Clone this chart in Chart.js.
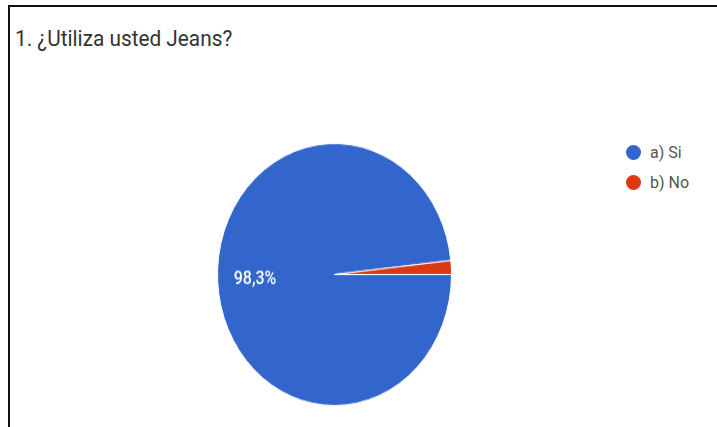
<!DOCTYPE html>
<html lang="es">
<head>
  <meta charset="UTF-8">
  <title>¿Utiliza usted Jeans?</title>
  <script src="https://cdn.jsdelivr.net/npm/chart.js"></script>
  <style>
    body { margin: 0; background: #fff; font-family: Roboto, sans-serif; }
    #frame { position: absolute; left: 8px; top: 5px; width: 720px; height: 440px;
             border-top: 2px solid #111; border-left: 2px solid #111; }
    #title { position: absolute; left: 15px; top: 25px; font-size: 20.8px; color: #333;
             transform: scaleY(1.1); transform-origin: left top; white-space: nowrap; }
    #pieBox { position: absolute; left: 212px; top: 152px; width: 245px; height: 245px;
              transform: scaleY(1.12); transform-origin: center center; }
    #legend { position: absolute; left: 626px; top: 137px; font-size: 16px; color: #555; }
    .item { display: flex; align-items: center; height: 30px; }
    .dot { width: 15px; height: 15px; border-radius: 50%; margin-right: 9px; }
  </style>
</head>
<body>
  <div id="frame"></div>
  <div id="title">1. ¿Utiliza usted Jeans?</div>
  <div id="pieBox"><canvas id="myChart" width="245" height="245"></canvas></div>
  <div id="legend"></div>

  <script>
    const labels = ["a) Si", "b) No"];
    const values = [98.3, 1.7];
    const colors = ["#3366cc", "#dc3912"];

    // percent labels inside the big slice, like the forms chart does
    const sliceLabels = {
      id: "sliceLabels",
      afterDatasetsDraw(chart) {
        const ctx = chart.ctx;
        const meta = chart.getDatasetMeta(0);
        const total = values.reduce((a, b) => a + b, 0);
        meta.data.forEach((arc, i) => {
          const pct = values[i] / total * 100;
          if (pct < 5) return;
          const p = arc.getProps(["x", "y", "startAngle", "endAngle", "outerRadius"], true);
          const mid = (p.startAngle + p.endAngle) / 2;
          const r = p.outerRadius * 0.68;
          ctx.save();
          ctx.fillStyle = "#fff";
          ctx.font = "500 16px Roboto, sans-serif";
          ctx.textAlign = "center";
          ctx.textBaseline = "middle";
          ctx.fillText(pct.toFixed(1).replace(".", ",") + "%", p.x + Math.cos(mid) * r, p.y + Math.sin(mid) * r);
          ctx.restore();
        });
      }
    };

    const ctx = document.getElementById("myChart").getContext("2d");
    new Chart(ctx, {
      type: "pie",
      data: {
        labels,
        datasets: [{
          data: values,
          backgroundColor: colors,
          borderColor: "#fff",
          borderWidth: 1,
          hoverOffset: 0
        }]
      },
      options: {
        responsive: false,
        animation: false,
        rotation: 90,
        layout: { padding: 5 },
        plugins: {
          legend: { display: false },
          tooltip: { enabled: false }
        }
      },
      plugins: [sliceLabels]
    });

    const legend = document.getElementById("legend");
    labels.forEach((name, i) => {
      const row = document.createElement("div");
      row.className = "item";
      row.innerHTML = '<span class="dot" style="background:' + colors[i] + '"></span>' + name;
      legend.appendChild(row);
    });
  </script>
</body>
</html>
